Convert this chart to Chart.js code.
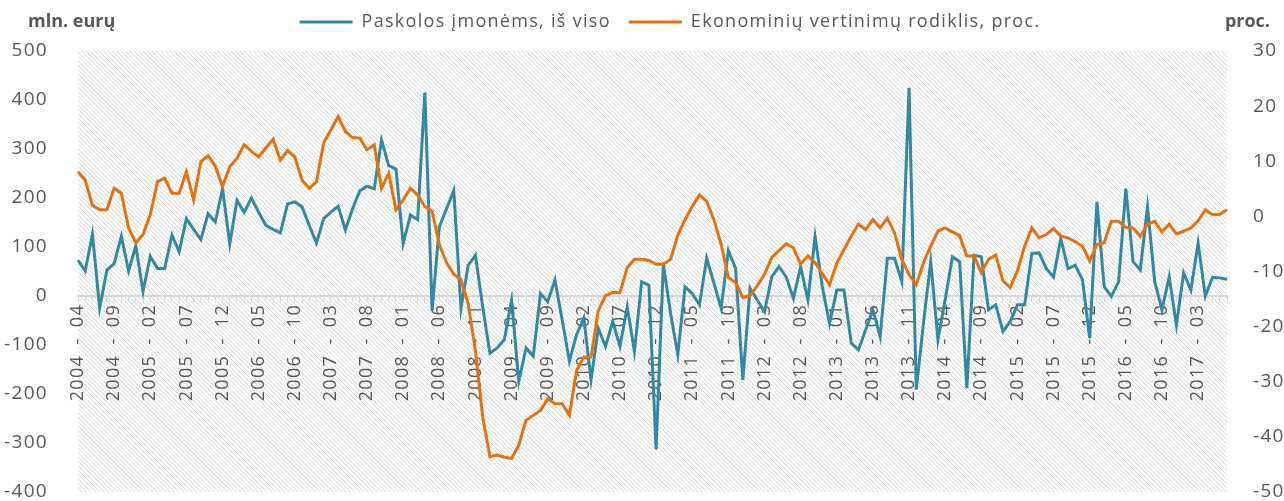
<!DOCTYPE html>
<html lang="lt">
  <head>
    <meta charset="UTF-8" />
    <title>Paskolos įmonėms ir ekonominių vertinimų rodiklis</title>
    <script src="https://cdn.jsdelivr.net/npm/chart.js"></script>
    <style>
      body { margin: 0; background: #fff; }
      #wrap { width: 1284px; height: 501px; }
    </style>
  </head>
  <body>
    <div id="wrap"><canvas id="loansChart"></canvas></div>
    <script>
      // mėnesiai nuo 2004-04 iki 2017-07
      const startYear = 2004;
      const startMonth = 4;
      const monthCount = 160;

      // Paskolos įmonėms, iš viso (mln. eurų)
      const loans = [
        73, 51, 126, -25, 53, 66, 122, 51, 102, 9,
        81, 56, 56, 124, 90, 158, 136, 115, 168, 151,
        219, 106, 195, 171, 200, 171, 144, 136, 129, 188,
        192, 182, 144, 108, 158, 171, 183, 135, 178, 215,
        224, 219, 318, 266, 259, 107, 165, 156, 415, -30,
        141, 178, 215, -25, 63, 83, -22, -117, -106, -89,
        -9, -174, -106, -123, 5, -12, 33, -49, -133, -79,
        -45, -171, -66, -103, -52, -103, -22, -113, 29, 22,
        -313, 65, -35, -120, 19, 5, -18, 77, 26, -25,
        93, 56, -171, 16, -8, -32, 39, 60, 39, -5,
        60, -8, 121, 19, -56, 12, 12, -96, -110, -69,
        -28, -83, 77, 77, 29, 425, -191, -55, 70, -89,
        -8, 80, 70, -188, 83, 80, -28, -18, -72, -52,
        -18, -18, 87, 88, 56, 39, 117, 56, 63, 33,
        -86, 192, 19, -1, 29, 219, 70, 53, 182, 29,
        -28, 39, -59, 47, 12, 108, 0, 38, 37, 34
      ];

      // Ekonominių vertinimų rodiklis, proc.
      const sentiment = [
        8.1, 6.6, 2.0, 1.2, 1.2, 5.1, 4.2, -2.1, -4.8, -3.3,
        0.3, 6.3, 6.9, 4.2, 4.2, 8.1, 3.0, 9.9, 11.0, 9.1,
        5.4, 9.0, 10.5, 13.0, 11.8, 10.8, 12.4, 14.0, 10.2, 11.9,
        10.8, 6.6, 5.1, 6.3, 13.3, 15.7, 18.1, 15.4, 14.3, 14.2,
        12.1, 13.0, 5.1, 7.8, 1.2, 3.0, 5.1, 3.9, 1.8, 0.9,
        -5.1, -8.4, -10.5, -11.5, -15.9, -24.4, -36.4, -43.6, -43.3, -43.7,
        -43.9, -41.5, -37.0, -36.1, -35.2, -33.1, -34.0, -34.0, -36.1, -27.9,
        -25.5, -25.5, -17.1, -14.4, -13.8, -13.8, -9.3, -7.8, -7.8, -8.0,
        -8.7, -8.7, -7.8, -3.4, -0.6, 1.8, 3.9, 2.7, -0.6, -5.1,
        -11.1, -12.0, -14.7, -14.4, -12.6, -10.5, -7.5, -6.2, -5.0, -5.7,
        -8.7, -7.2, -8.4, -10.4, -12.4, -8.5, -6.0, -3.6, -1.4, -2.4,
        -0.6, -2.1, -0.3, -3.0, -7.8, -10.6, -12.4, -8.4, -5.4, -2.7,
        -2.1, -2.8, -3.5, -7.2, -7.2, -10.2, -7.8, -7.0, -11.7, -12.9,
        -9.9, -5.4, -2.1, -3.9, -3.3, -2.2, -3.6, -3.9, -4.6, -5.4,
        -8.1, -5.1, -4.8, -0.9, -0.9, -2.0, -2.1, -3.6, -1.4, -0.9,
        -2.8, -1.4, -3.2, -2.7, -2.1, -0.8, 1.2, 0.3, 0.4, 1.2
      ];

      const labels = [];
      for (let k = 0; k < monthCount; k++) {
        const m = startMonth - 1 + k;
        const y = startYear + Math.floor(m / 12);
        const mm = String((m % 12) + 1).padStart(2, "0");
        labels.push(y + "\u2002-\u2002" + mm);
      }

      const grey = "#595959";
      const font = '"Open Sans", "Noto Sans", sans-serif';

      // tarpai tarp raidžių, kaip Excel paveiksle
      const spacing = {
        id: "spacing",
        beforeLayout(chart) { chart.ctx.letterSpacing = "1.3px"; },
        beforeDraw(chart) { chart.ctx.letterSpacing = "1.3px"; }
      };

      // legenda kiek dešiniau ir aukščiau
      const legendShift = {
        id: "legendShift",
        afterLayout(chart) {
          const lg = chart.legend;
          lg.left += 28; lg.right += 28;
          lg.top -= 10; lg.bottom -= 10;
        }
      };

      // užbrūkšniuotas braižymo plotas
      const hatch = {
        id: "hatch",
        beforeDraw(chart) {
          const { ctx, chartArea: a } = chart;
          ctx.save();
          ctx.beginPath();
          ctx.rect(a.left, a.top, a.width, a.height);
          ctx.clip();
          ctx.strokeStyle = "#d6d6d6";
          ctx.lineWidth = 1;
          const h = a.height;
          ctx.beginPath();
          for (let x = a.left - h; x < a.right; x += 4.4) {
            ctx.moveTo(x, a.top);
            ctx.lineTo(x + h, a.bottom);
          }
          ctx.stroke();
          ctx.restore();
        }
      };

      // ašių pavadinimai viršuje
      const axisTitles = {
        id: "axisTitles",
        afterDraw(chart) {
          const ctx = chart.ctx;
          ctx.save();
          ctx.letterSpacing = "0px";
          ctx.font = "bold 18px " + font;
          ctx.fillStyle = grey;
          ctx.textBaseline = "middle";
          ctx.textAlign = "left";
          ctx.fillText("mln. eurų", 28, 22);
          ctx.textAlign = "right";
          ctx.fillText("proc.", 1270, 22);
          ctx.restore();
        }
      };

      const noPad = (s) => {
        s.paddingTop = 0;
        s.paddingBottom = 0;
      };

      const ctx = document.getElementById("loansChart").getContext("2d");
      new Chart(ctx, {
        type: "line",
        data: {
          labels: labels,
          datasets: [
            {
              label: "Paskolos įmonėms, iš viso",
              data: loans,
              borderColor: "#3389a1",
              backgroundColor: "#3389a1",
              borderWidth: 3,
              pointRadius: 0,
              tension: 0,
              yAxisID: "y",
              order: 1
            },
            {
              label: "Ekonominių vertinimų rodiklis, proc.",
              data: sentiment,
              borderColor: "#e8700f",
              backgroundColor: "#e8700f",
              borderWidth: 3,
              pointRadius: 0,
              tension: 0,
              yAxisID: "y1",
              order: 0
            }
          ]
        },
        options: {
          responsive: true,
          maintainAspectRatio: false,
          animation: false,
          layout: { padding: { top: 5, bottom: 9, left: 0, right: 0 } },
          plugins: {
            legend: {
              position: "top",
              labels: {
                usePointStyle: true,
                pointStyle: "line",
                pointStyleWidth: 53,
                color: grey,
                font: { family: font, size: 18 },
                padding: 18,
                sort: (a, b) => a.datasetIndex - b.datasetIndex
              }
            },
            tooltip: { enabled: false }
          },
          scales: {
            x: {
              position: { y: 0 },
              grid: {
                drawOnChartArea: false,
                drawTicks: true,
                tickLength: 5,
                color: "#d9d9d9"
              },
              border: { display: true, color: "#d9d9d9", width: 2 },
              ticks: {
                autoSkip: false,
                maxRotation: 90,
                minRotation: 90,
                padding: 3,
                color: grey,
                font: { family: font, size: 18 },
                callback: (v, i) => (i % 5 === 0 ? labels[i] : "")
              },
              afterFit: (s) => {
                noPad(s);
                s.paddingRight = 0;
              }
            },
            y: {
              position: "left",
              min: -400,
              max: 500,
              grid: { display: false },
              border: { display: false },
              ticks: { stepSize: 100, padding: 22, color: grey, font: { family: font, size: 19 } },
              afterFit: (s) => { s.width = 78; noPad(s); }
            },
            y1: {
              position: "right",
              min: -50,
              max: 30,
              grid: { display: false },
              border: { display: false },
              ticks: { stepSize: 10, padding: 18, color: grey, font: { family: font, size: 19 } },
              afterFit: (s) => { s.width = 57; noPad(s); }
            }
          }
        },
        plugins: [spacing, legendShift, hatch, axisTitles]
      });
    </script>
  </body>
</html>
